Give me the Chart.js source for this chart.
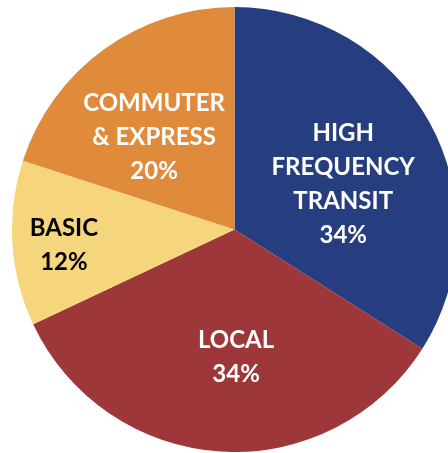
<!DOCTYPE html>
<html>
<head>
<meta charset="utf-8">
<script src="https://cdn.jsdelivr.net/npm/chart.js@4"></script>
<style>
  html, body { margin: 0; padding: 0; background: #fff; overflow: hidden; }
  body { width: 448px; height: 453px; position: relative; }
  #servicePie { position: absolute; left: 12px; top: 7px; }
</style>
</head>
<body>
<canvas id="servicePie" width="445" height="445"></canvas>
<script>
const categories = ['HIGH FREQUENCY TRANSIT', 'LOCAL', 'BASIC', 'COMMUTER & EXPRESS'];
const shares = [34, 34, 12, 20];
// how each label is split into lines
const labelLines = [
  ['HIGH', 'FREQUENCY', 'TRANSIT'],
  ['LOCAL'],
  ['BASIC'],
  ['COMMUTER', '& EXPRESS']
];
const sliceColors = ['#263d80', '#9e3739', '#f5d67d', '#e08b3b'];
const textColors = ['#ffffff', '#ffffff', '#000000', '#ffffff'];
// label placement inside each slice: [angle nudge in degrees, fraction of radius]
const labelPlace = [[6, 0.53], [-4.3, 0.573], [-1.6, 0.77], [-5, 0.551]];

const sliceLabels = {
  id: 'sliceLabels',
  afterDatasetsDraw(chart) {
    const ctx = chart.ctx;
    const meta = chart.getDatasetMeta(0);
    ctx.save();
    ctx.font = 'bold 24px Lato';
    ctx.textAlign = 'center';
    ctx.textBaseline = 'middle';
    meta.data.forEach((arc, i) => {
      const mid = (arc.startAngle + arc.endAngle) / 2 + labelPlace[i][0] * Math.PI / 180;
      const r = arc.outerRadius * labelPlace[i][1];
      const x = arc.x + Math.cos(mid) * r;
      const y = arc.y + Math.sin(mid) * r;
      const lines = labelLines[i].concat([shares[i] + '%']);
      const lh = 34;
      ctx.fillStyle = textColors[i];
      lines.forEach((line, j) => {
        ctx.fillText(line, x, y + (j - (lines.length - 1) / 2) * lh);
      });
    });
    ctx.restore();
  }
};

new Chart(document.getElementById('servicePie'), {
  type: 'pie',
  data: {
    labels: categories,
    datasets: [{
      data: shares,
      backgroundColor: sliceColors,
      borderWidth: 0
    }]
  },
  options: {
    responsive: false,
    animation: false,
    layout: { padding: 0 },
    plugins: {
      legend: { display: false },
      tooltip: { enabled: false }
    }
  },
  plugins: [sliceLabels]
});
</script>
</body>
</html>
